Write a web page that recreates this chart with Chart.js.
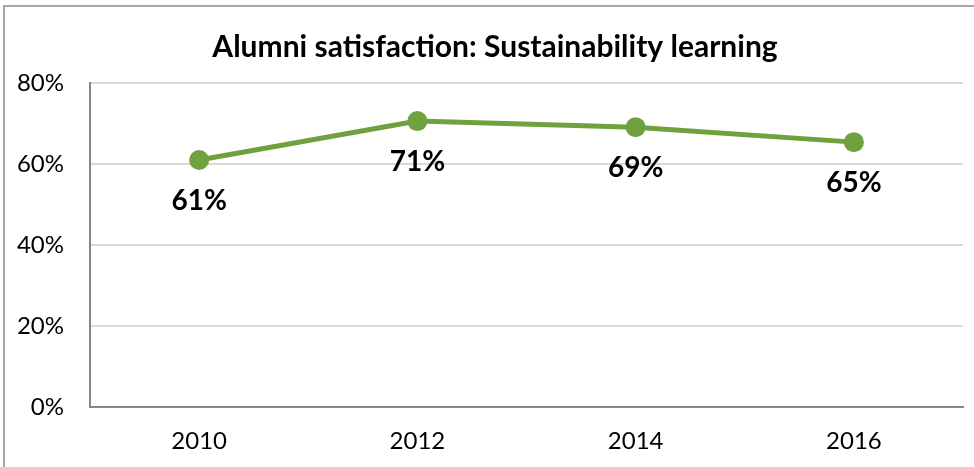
<!DOCTYPE html>
<html>
<head>
<meta charset="utf-8">
<script src="https://cdn.jsdelivr.net/npm/chart.js@4"></script>
<style>
  html, body { margin: 0; padding: 0; background: #fff; overflow: hidden; }
  #frame { position: absolute; left: 3px; top: 5px; width: 1000px; height: 500px; border: 2px solid #a6a6a6; }
  #wrap { position: absolute; left: 0; top: 0; width: 974px; height: 467px; }
</style>
</head>
<body>
<div id="frame"></div>
<div id="wrap"><canvas id="alumni"></canvas></div>
<script>
const chartTitle = 'Alumni satisfaction: Sustainability learning';
const years = ['2010', '2012', '2014', '2016'];
const satisfaction = [0.61, 0.706, 0.691, 0.654];
const pointLabels = ['61%', '71%', '69%', '65%'];

// bold % labels under each point, plus the title (excel centres it on the whole frame)
const labelsBelow = {
  id: 'labelsBelow',
  afterDatasetsDraw(chart) {
    const ctx = chart.ctx;
    const meta = chart.getDatasetMeta(0);
    ctx.save();
    ctx.fillStyle = '#000';
    ctx.textAlign = 'center';
    ctx.textBaseline = 'middle';
    ctx.font = 'bold 30px Lato';
    ctx.fillText(chartTitle, 495, 47);
    ctx.font = 'bold 28px Lato';
    meta.data.forEach((pt, i) => {
      ctx.fillText(pointLabels[i], pt.x, pt.y + 41);
    });
    ctx.restore();
  }
};

Chart.defaults.font.family = 'Lato';
Chart.defaults.color = '#000';

new Chart(document.getElementById('alumni'), {
  type: 'line',
  data: {
    labels: years,
    datasets: [{
      label: 'Sustainability learning',
      data: satisfaction,
      borderColor: '#6fa13e',
      backgroundColor: '#6fa13e',
      borderWidth: 5,
      pointRadius: 10,
      pointHoverRadius: 10,
      pointBorderWidth: 0,
      tension: 0
    }]
  },
  options: {
    responsive: true,
    maintainAspectRatio: false,
    animation: false,
    layout: { padding: { left: 0, right: 11, top: 83, bottom: 0 } },
    plugins: {
      legend: { display: false },
      tooltip: { enabled: false },
      title: { display: false }
    },
    scales: {
      x: {
        offset: true,
        grid: { display: false, drawTicks: false },
        border: { color: '#868686', width: 2 },
        ticks: { font: { size: 24 }, padding: 20 },
        afterFit(s) { s.height = 60; }
      },
      y: {
        min: 0,
        max: 0.8,
        ticks: {
          stepSize: 0.2,
          font: { size: 24 },
          padding: 26,
          callback: v => Math.round(v * 100) + '%'
        },
        grid: { color: '#d9d9d9', lineWidth: 2, drawTicks: false },
        border: { color: '#868686', width: 2 },
        afterFit(s) { s.width = 90; }
      }
    }
  },
  plugins: [labelsBelow]
});
</script>
</body>
</html>
